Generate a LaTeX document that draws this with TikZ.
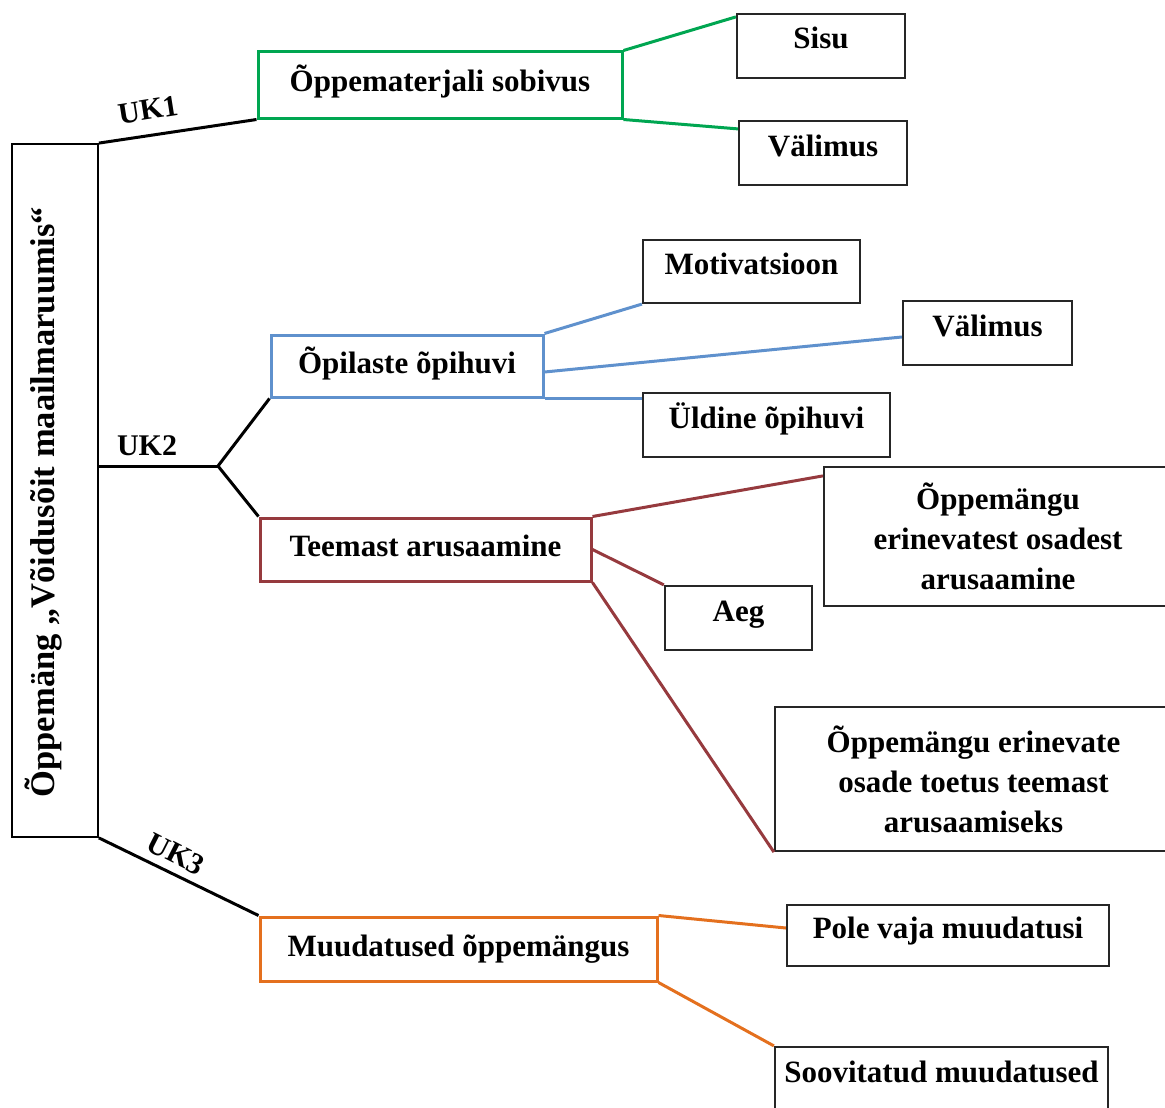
\documentclass[tikz,border=0pt]{standalone}
\usepackage{fontspec}
\setmainfont{Liberation Serif}
\usetikzlibrary{calc}
\definecolor{cgreen}{RGB}{0,166,81}
\definecolor{cblue}{RGB}{95,145,205}
\definecolor{cred}{RGB}{150,58,62}
\definecolor{corange}{RGB}{228,112,30}
\begin{document}
\begin{tikzpicture}[x=1pt,y=-1pt,
  txt/.style={font=\fontsize{31}{36}\selectfont\bfseries},
  leaf/.style={txt, draw=black!85, line width=2.2pt, inner sep=0pt, text height=21pt, text depth=15pt},
  mleaf/.style={draw=black!85, line width=2.2pt, inner sep=0pt, align=center, font=\fontsize{31}{40}\selectfont\bfseries},
  cat/.style={txt, draw=#1, line width=3pt, inner sep=0pt, text height=22pt, text depth=8pt},
  cline/.style={draw=#1, line width=3pt},
  bline/.style={draw=black, line width=3pt},
  uk/.style={font=\fontsize{30}{34}\selectfont\bfseries, inner sep=0pt}
]
\useasboundingbox (0,0) rectangle (1165,1108);

% root
\node[draw=black, line width=1.8pt, minimum width=86pt, minimum height=693pt, inner sep=0pt] (root) at (55,490.5) {};
\node[font=\fontsize{34.5}{38}\selectfont\bfseries, rotate=90, inner sep=0pt] (roottext) at (43,502) {Õppemäng „Võidusõit maailmaruumis“};

% category boxes
\node[cat=cgreen, minimum width=364pt, minimum height=66pt] (green) at (440,85) {Õppematerjali sobivus};
\node[cat=cblue, minimum width=272pt, minimum height=62pt] (blue) at (407,366) {Õpilaste õpihuvi};
\node[cat=cred, minimum width=331pt, minimum height=63pt] (red) at (425.5,549.5) {Teemast arusaamine};
\node[cat=corange, minimum width=397pt, minimum height=64pt] (orange) at (458.5,949) {Muudatused õppemängus};

% leaves
\node[leaf, minimum width=168pt, minimum height=64pt] (sisu) at (821,46) {Sisu};
\node[leaf, minimum width=168pt, minimum height=64pt] (val1) at (823,153) {Välimus};
\node[leaf, minimum width=217pt, minimum height=63pt] (motiv) at (751.5,271.5) {Motivatsioon};
\node[leaf, minimum width=169pt, minimum height=64pt] (val2) at (987.5,333) {Välimus};
\node[leaf, minimum width=247pt, minimum height=64pt] (uld) at (766.5,425) {Üldine õpihuvi};
\node[leaf, minimum width=147pt, minimum height=64pt] (aeg) at (738.5,618) {Aeg};
\node[leaf, minimum width=322pt, minimum height=61pt] (pole) at (948,935.5) {Pole vaja muudatusi};
\node[leaf, minimum width=333pt, minimum height=64pt] (soov) at (941.5,1079) {Soovitatud muudatused};
\node[mleaf, minimum width=348pt, minimum height=139pt] (osad) at (998,536.5) {Õppemängu\\erinevatest osadest\\arusaamine};
\node[mleaf, minimum width=397pt, minimum height=144pt] (toetus) at (973.5,779) {Õppemängu erinevate\\osade toetus teemast\\arusaamiseks};

% main branches
\coordinate (fork) at (218,466);
\draw[bline] (root.north east) -- (green.south west);
\draw[bline] ([yshift=24.5pt]root.east) -- (fork);
\draw[bline] (fork) -- (blue.south west);
\draw[bline] (fork) -- (red.north west);
\draw[bline] (root.south east) -- (orange.north west);

\node[uk, rotate=9] (uk1) at (148,110) {UK1};
\node[uk] (uk2) at (147,446) {UK2};
\node[uk, rotate=-27] (uk3) at (176,854) {UK3};

% green
\draw[cline=cgreen] (green.north east) -- ([yshift=-4pt]sisu.north west);
\draw[cline=cgreen] (green.south east) -- ([yshift=-9pt]val1.north west);
% blue
\draw[cline=cblue] (blue.north east) -- (motiv.south west);
\draw[cline=cblue] ([yshift=-6pt]blue.east) -- ([yshift=-4pt]val2.west);
\draw[cline=cblue] (blue.south east) -- (blue.south east -| uld.west);
% red
\draw[cline=cred] (red.north east) -- ([yshift=-10pt]osad.north west);
\draw[cline=cred] (red.east) -- (aeg.north west);
\draw[cline=cred] (red.south east) -- (toetus.south west);
% orange
\draw[cline=corange] (orange.north east) -- ([yshift=7.5pt]pole.west);
\draw[cline=corange] (orange.south east) -- (soov.north west);
\end{tikzpicture}
\end{document}
